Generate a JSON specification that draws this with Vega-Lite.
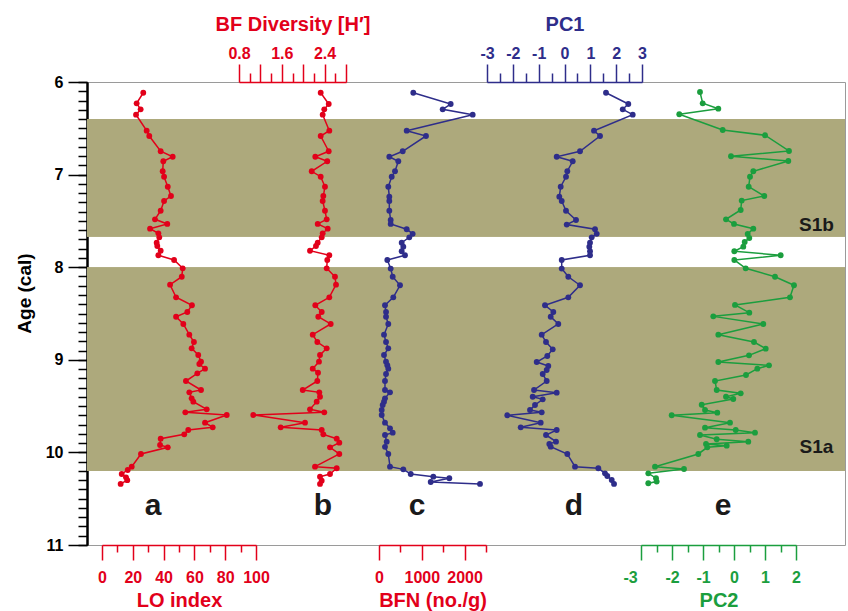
{
  "$schema": "https://vega.github.io/schema/vega-lite/v6.json",
  "width": 758,
  "height": 463,
  "autosize": {"type": "none"},
  "padding": {"left": 87, "top": 82, "right": 3, "bottom": 66},
  "config": {
    "view": {"stroke": "#9a9a9a", "strokeWidth": 1},
    "font": "Liberation Sans",
    "axis": {"grid": false, "labelFont": "Liberation Sans", "titleFont": "Liberation Sans", "labelFontWeight": "bold", "titleFontWeight": "bold", "labelOverlap": false, "labelFlush": false}
  },
  "layer": [
    {
      "data": {"values": [{"start": 6.4, "end": 7.67}, {"start": 8.0, "end": 10.2}]},
      "mark": {"type": "rect", "color": "#ada97c"},
      "encoding": {
        "y": {"field": "start", "type": "quantitative", "scale": {"domain": [6, 11], "reverse": true, "nice": false, "zero": false}, "title": null,
          "axis": {"orient": "left",
            "values": [6,6.1,6.2,6.3,6.4,6.5,6.6,6.7,6.8,6.9,7,7.1,7.2,7.3,7.4,7.5,7.6,7.7,7.8,7.9,8,8.1,8.2,8.3,8.4,8.5,8.6,8.7,8.8,8.9,9,9.1,9.2,9.3,9.4,9.5,9.6,9.7,9.8,9.9,10,10.1,10.2,10.3,10.4,10.5,10.6,10.7,10.8,10.9,11],
            "labels": false, "tickSize": 9,
            "domainColor": "#000000", "domainWidth": 2, "tickColor": "#000000", "tickWidth": 1.5}
        },
        "y2": {"field": "end"}
      }
    },
    {
      "data": {"values": [{"start": 6.4, "end": 7.67}, {"start": 8.0, "end": 10.2}]},
      "mark": {"type": "rect", "color": "#ada97c"},
      "encoding": {
        "y": {"field": "start", "type": "quantitative", "scale": {"domain": [6, 11], "reverse": true, "nice": false, "zero": false}, "title": "Age (cal)",
          "axis": {"orient": "left", "values": [6, 7, 8, 9, 10, 11], "format": "d", "tickSize": 19,
            "domainColor": "#000000", "domainWidth": 2, "tickColor": "#000000", "tickWidth": 1.5,
            "labelColor": "#000000", "labelFontSize": 16, "labelPadding": 5,
            "titleColor": "#000000", "titleFontSize": 19, "titlePadding": 11, "titleY": 211}
        },
        "y2": {"field": "end"}
      }
    },
    {
      "layer": [
        {
          "data": {"values": [
            {"age":6.116,"v":26.8},{"age":6.23,"v":22.5},{"age":6.295,"v":25.1},{"age":6.353,"v":22.1},{"age":6.526,"v":29.0},{"age":6.583,"v":30.7},{"age":6.748,"v":38.1},{"age":6.807,"v":45.9},{"age":6.856,"v":39.8},{"age":6.964,"v":39.4},{"age":7.023,"v":40.3},{"age":7.131,"v":42.7},{"age":7.231,"v":44.8},{"age":7.285,"v":40.3},{"age":7.39,"v":38.1},{"age":7.483,"v":34.4},{"age":7.533,"v":42.4},{"age":7.584,"v":31.2},{"age":7.634,"v":36.6},{"age":7.677,"v":37.2},{"age":7.735,"v":35.5},{"age":7.771,"v":35.9},{"age":7.822,"v":38.1},{"age":7.871,"v":36.6},{"age":7.922,"v":46.8},{"age":8.012,"v":52.4},{"age":8.103,"v":51.8},{"age":8.189,"v":44.2},{"age":8.325,"v":48.1},{"age":8.411,"v":58.4},{"age":8.484,"v":55.4},{"age":8.535,"v":48.1},{"age":8.613,"v":52.8},{"age":8.729,"v":56.7},{"age":8.808,"v":59.7},{"age":8.876,"v":58.2},{"age":8.948,"v":62.5},{"age":9.02,"v":64.3},{"age":9.045,"v":63.2},{"age":9.096,"v":66.9},{"age":9.146,"v":61.9},{"age":9.229,"v":54.5},{"age":9.326,"v":64.3},{"age":9.351,"v":56.7},{"age":9.416,"v":58.2},{"age":9.452,"v":59.3},{"age":9.535,"v":68.0},{"age":9.567,"v":54.1},{"age":9.596,"v":81.0},{"age":9.679,"v":66.9},{"age":9.729,"v":71.9},{"age":9.758,"v":56.0},{"age":9.805,"v":53.4},{"age":9.852,"v":38.1},{"age":9.92,"v":37.7},{"age":9.945,"v":42.7},{"age":10.017,"v":25.3},{"age":10.154,"v":19.3},{"age":10.19,"v":16.7},{"age":10.233,"v":12.8},{"age":10.269,"v":15.6},{"age":10.30,"v":16.4},{"age":10.34,"v":12.1}
          ]},
          "mark": {"type": "line", "color": "#e2001a", "strokeWidth": 1.5, "point": {"filled": true, "size": 34, "color": "#e2001a"}},
          "encoding": {
            "x": {"field": "v", "type": "quantitative", "scale": {"domain": [0, 100], "range": [15, 169], "nice": false, "zero": false}, "title": "LO index",
              "axis": {"orient": "bottom", "values": [0,10,20,30,40,50,60,70,80,90,100],
                "labelExpr": "datum.value % 20 == 0 ? '' + datum.value : ''",
                "tickSize": {"condition": {"test": "datum.value % 20 != 0", "value": 7}, "value": 15},
                "domainColor": "#e2001a", "tickColor": "#e2001a", "labelColor": "#e2001a", "titleColor": "#e2001a",
                "domainWidth": 1.5, "tickWidth": 1.5, "labelFontSize": 16, "titleFontSize": 20, "labelPadding": 9, "titlePadding": 5}},
            "y": {"field": "age", "type": "quantitative", "scale": {"domain": [6, 11], "reverse": true, "nice": false, "zero": false}, "axis": null},
            "order": {"field": "age", "type": "quantitative"}
          }
        },
        {
          "data": {"values": [{"age": 10.675, "v": 33.1, "t": "a"}]},
          "mark": {"type": "text", "fontSize": 30, "fontWeight": "bold", "color": "#1a1a1a", "align": "center", "baseline": "alphabetic"},
          "encoding": {
            "x": {"field": "v", "type": "quantitative", "title": "LO index"},
            "y": {"field": "age", "type": "quantitative", "axis": null},
            "text": {"field": "t"}
          }
        }
      ]
    },
    {
      "layer": [
        {
          "data": {"values": [
            {"age":6.116,"v":2.327},{"age":6.238,"v":2.477},{"age":6.295,"v":2.394},{"age":6.353,"v":2.364},{"age":6.526,"v":2.488},{"age":6.583,"v":2.327},{"age":6.748,"v":2.477},{"age":6.807,"v":2.226},{"age":6.856,"v":2.45},{"age":6.964,"v":2.159},{"age":7.023,"v":2.327},{"age":7.131,"v":2.407},{"age":7.231,"v":2.376},{"age":7.285,"v":2.364},{"age":7.39,"v":2.407},{"age":7.483,"v":2.439},{"age":7.533,"v":2.271},{"age":7.584,"v":2.458},{"age":7.634,"v":2.364},{"age":7.677,"v":2.346},{"age":7.735,"v":2.271},{"age":7.771,"v":2.239},{"age":7.822,"v":2.127},{"age":7.871,"v":2.488},{"age":7.922,"v":2.45},{"age":8.012,"v":2.439},{"age":8.103,"v":2.594},{"age":8.189,"v":2.613},{"age":8.325,"v":2.488},{"age":8.411,"v":2.226},{"age":8.484,"v":2.346},{"age":8.535,"v":2.282},{"age":8.613,"v":2.514},{"age":8.729,"v":2.178},{"age":8.808,"v":2.264},{"age":8.876,"v":2.439},{"age":8.948,"v":2.314},{"age":9.02,"v":2.295},{"age":9.096,"v":2.178},{"age":9.139,"v":2.277},{"age":9.229,"v":2.264},{"age":9.326,"v":1.991},{"age":9.351,"v":2.301},{"age":9.399,"v":2.314},{"age":9.452,"v":2.252},{"age":9.535,"v":2.127},{"age":9.567,"v":2.394},{"age":9.596,"v":1.067},{"age":9.679,"v":2.034},{"age":9.729,"v":1.579},{"age":9.758,"v":2.346},{"age":9.805,"v":2.376},{"age":9.852,"v":2.626},{"age":9.895,"v":2.675},{"age":9.945,"v":2.501},{"age":10.017,"v":2.675},{"age":10.154,"v":2.221},{"age":10.171,"v":2.626},{"age":10.233,"v":2.501},{"age":10.262,"v":2.314},{"age":10.305,"v":2.346},{"age":10.34,"v":2.314}
          ]},
          "mark": {"type": "line", "color": "#e2001a", "strokeWidth": 1.5, "point": {"filled": true, "size": 34, "color": "#e2001a"}},
          "encoding": {
            "x": {"field": "v", "type": "quantitative", "scale": {"domain": [0.8, 2.8], "range": [152, 259], "nice": false, "zero": false}, "title": "BF Diversity [H′]",
              "axis": {"orient": "top", "values": [0.8,1.0,1.2,1.4,1.6,1.8,2.0,2.2,2.4,2.6,2.8],
                "labelExpr": "round(datum.value * 10) % 8 == 0 ? '' + datum.value : ''",
                "tickSize": {"condition": {"test": "round(datum.value * 10) % 4 != 0", "value": 9}, "value": 18},
                "domainColor": "#e2001a", "tickColor": "#e2001a", "labelColor": "#e2001a", "titleColor": "#e2001a",
                "domainWidth": 1.5, "tickWidth": 1.5, "labelFontSize": 16, "titleFontSize": 20, "labelPadding": 3, "titlePadding": 11}},
            "y": {"field": "age", "type": "quantitative", "scale": {"domain": [6, 11], "reverse": true, "nice": false, "zero": false}, "axis": null},
            "order": {"field": "age", "type": "quantitative"}
          }
        },
        {
          "data": {"values": [{"age": 10.675, "v": 2.37, "t": "b"}]},
          "mark": {"type": "text", "fontSize": 30, "fontWeight": "bold", "color": "#1a1a1a", "align": "center", "baseline": "alphabetic"},
          "encoding": {
            "x": {"field": "v", "type": "quantitative", "title": "BF Diversity [H′]"},
            "y": {"field": "age", "type": "quantitative", "axis": null},
            "text": {"field": "t"}
          }
        }
      ]
    },
    {
      "layer": [
        {
          "data": {"values": [
            {"age":6.116,"v":801},{"age":6.238,"v":1675},{"age":6.295,"v":1488},{"age":6.353,"v":2189},{"age":6.526,"v":647},{"age":6.583,"v":1098},{"age":6.748,"v":554},{"age":6.807,"v":241},{"age":6.856,"v":451},{"age":6.964,"v":374},{"age":7.023,"v":297},{"age":7.131,"v":217},{"age":7.238,"v":241},{"age":7.285,"v":241},{"age":7.39,"v":241},{"age":7.49,"v":273},{"age":7.533,"v":273},{"age":7.59,"v":647},{"age":7.64,"v":787},{"age":7.677,"v":708},{"age":7.735,"v":530},{"age":7.778,"v":568},{"age":7.828,"v":530},{"age":7.871,"v":607},{"age":7.922,"v":194},{"age":8.015,"v":273},{"age":8.103,"v":320},{"age":8.195,"v":491},{"age":8.325,"v":334},{"age":8.411,"v":140},{"age":8.484,"v":164},{"age":8.535,"v":164},{"age":8.613,"v":217},{"age":8.729,"v":117},{"age":8.808,"v":164},{"age":8.876,"v":217},{"age":8.948,"v":117},{"age":9.02,"v":164},{"age":9.059,"v":194},{"age":9.096,"v":217},{"age":9.153,"v":164},{"age":9.229,"v":140},{"age":9.326,"v":140},{"age":9.351,"v":257},{"age":9.416,"v":140},{"age":9.452,"v":117},{"age":9.488,"v":86},{"age":9.542,"v":63},{"age":9.596,"v":63},{"age":9.679,"v":140},{"age":9.74,"v":257},{"age":9.787,"v":320},{"age":9.812,"v":140},{"age":9.884,"v":180},{"age":9.94,"v":140},{"age":10.017,"v":217},{"age":10.154,"v":257},{"age":10.183,"v":568},{"age":10.233,"v":741},{"age":10.262,"v":1269},{"age":10.279,"v":1643},{"age":10.32,"v":1208},{"age":10.34,"v":2360}
          ]},
          "mark": {"type": "line", "color": "#2e2d8a", "strokeWidth": 1.5, "point": {"filled": true, "size": 34, "color": "#2e2d8a"}},
          "encoding": {
            "x": {"field": "v", "type": "quantitative", "scale": {"domain": [0, 2500], "range": [292, 399], "nice": false, "zero": false}, "title": "BFN (no./g)",
              "axis": {"orient": "bottom", "values": [0,500,1000,1500,2000,2500],
                "labelExpr": "datum.value % 1000 == 0 ? '' + datum.value : ''",
                "tickSize": {"condition": {"test": "datum.value % 1000 != 0", "value": 7}, "value": 15},
                "domainColor": "#e2001a", "tickColor": "#e2001a", "labelColor": "#e2001a", "titleColor": "#e2001a",
                "domainWidth": 1.5, "tickWidth": 1.5, "labelFontSize": 16, "titleFontSize": 20, "labelPadding": 9, "titlePadding": 5}},
            "y": {"field": "age", "type": "quantitative", "scale": {"domain": [6, 11], "reverse": true, "nice": false, "zero": false}, "axis": null},
            "order": {"field": "age", "type": "quantitative"}
          }
        },
        {
          "data": {"values": [{"age": 10.675, "v": 888, "t": "c"}]},
          "mark": {"type": "text", "fontSize": 30, "fontWeight": "bold", "color": "#1a1a1a", "align": "center", "baseline": "alphabetic"},
          "encoding": {
            "x": {"field": "v", "type": "quantitative", "title": "BFN (no./g)"},
            "y": {"field": "age", "type": "quantitative", "axis": null},
            "text": {"field": "t"}
          }
        }
      ]
    },
    {
      "layer": [
        {
          "data": {"values": [
            {"age":6.116,"v":1.607},{"age":6.238,"v":2.47},{"age":6.295,"v":2.254},{"age":6.353,"v":2.641},{"age":6.526,"v":1.142},{"age":6.583,"v":1.375},{"age":6.748,"v":0.6},{"age":6.807,"v":-0.302},{"age":6.856,"v":0.318},{"age":6.964,"v":0.109},{"age":7.023,"v":0.058},{"age":7.131,"v":-0.147},{"age":7.238,"v":-0.201},{"age":7.285,"v":-0.108},{"age":7.39,"v":0.058},{"age":7.49,"v":0.446},{"age":7.54,"v":0.086},{"age":7.59,"v":1.181},{"age":7.64,"v":1.247},{"age":7.677,"v":1.053},{"age":7.735,"v":0.988},{"age":7.778,"v":0.961},{"age":7.828,"v":0.988},{"age":7.871,"v":0.988},{"age":7.922,"v":-0.108},{"age":8.015,"v":-0.108},{"age":8.103,"v":0.147},{"age":8.195,"v":0.6},{"age":8.325,"v":0.147},{"age":8.411,"v":-0.755},{"age":8.484,"v":-0.433},{"age":8.535,"v":-0.534},{"age":8.613,"v":-0.24},{"age":8.729,"v":-0.882},{"age":8.808,"v":-0.716},{"age":8.887,"v":-0.456},{"age":8.959,"v":-0.666},{"age":9.024,"v":-1.076},{"age":9.067,"v":-0.627},{"age":9.11,"v":-0.689},{"age":9.153,"v":-0.844},{"age":9.229,"v":-0.689},{"age":9.326,"v":-1.18},{"age":9.355,"v":-0.302},{"age":9.399,"v":-1.231},{"age":9.427,"v":-0.844},{"age":9.488,"v":-1.142},{"age":9.542,"v":-1.335},{"age":9.567,"v":-0.882},{"age":9.599,"v":-2.214},{"age":9.679,"v":-0.921},{"age":9.729,"v":-1.695},{"age":9.758,"v":-0.302},{"age":9.812,"v":-0.716},{"age":9.884,"v":-0.329},{"age":9.909,"v":-0.588},{"age":9.938,"v":-0.534},{"age":10.017,"v":0.109},{"age":10.154,"v":0.407},{"age":10.171,"v":1.309},{"age":10.226,"v":1.568},{"age":10.255,"v":1.657},{"age":10.298,"v":1.828},{"age":10.34,"v":1.917}
          ]},
          "mark": {"type": "line", "color": "#2e2d8a", "strokeWidth": 1.5, "point": {"filled": true, "size": 34, "color": "#2e2d8a"}},
          "encoding": {
            "x": {"field": "v", "type": "quantitative", "scale": {"domain": [-3, 3], "range": [400, 555], "nice": false, "zero": false}, "title": "PC1",
              "axis": {"orient": "top", "values": [-3,-2.5,-2,-1.5,-1,-0.5,0,0.5,1,1.5,2,2.5,3],
                "labelExpr": "datum.value % 1 == 0 ? '' + datum.value : ''",
                "tickSize": {"condition": {"test": "datum.value % 1 != 0", "value": 9}, "value": 18},
                "domainColor": "#2e2d8a", "tickColor": "#2e2d8a", "labelColor": "#2e2d8a", "titleColor": "#2e2d8a",
                "domainWidth": 1.5, "tickWidth": 1.5, "labelFontSize": 16, "titleFontSize": 20, "labelPadding": 3, "titlePadding": 11}},
            "y": {"field": "age", "type": "quantitative", "scale": {"domain": [6, 11], "reverse": true, "nice": false, "zero": false}, "axis": null},
            "order": {"field": "age", "type": "quantitative"}
          }
        },
        {
          "data": {"values": [{"age": 10.675, "v": 0.368, "t": "d"}]},
          "mark": {"type": "text", "fontSize": 30, "fontWeight": "bold", "color": "#1a1a1a", "align": "center", "baseline": "alphabetic"},
          "encoding": {
            "x": {"field": "v", "type": "quantitative", "title": "PC1"},
            "y": {"field": "age", "type": "quantitative", "axis": null},
            "text": {"field": "t"}
          }
        }
      ]
    },
    {
      "layer": [
        {
          "data": {"values": [
            {"age":6.108,"v":-1.097},{"age":6.23,"v":-1.01},{"age":6.288,"v":-0.506},{"age":6.348,"v":-1.765},{"age":6.518,"v":-0.365},{"age":6.575,"v":1.0},{"age":6.745,"v":1.774},{"age":6.802,"v":-0.097},{"age":6.853,"v":1.752},{"age":6.964,"v":0.623},{"age":7.023,"v":0.516},{"age":7.131,"v":0.474},{"age":7.231,"v":0.977},{"age":7.281,"v":0.248},{"age":7.382,"v":0.216},{"age":7.483,"v":-0.258},{"age":7.533,"v":0.0},{"age":7.584,"v":0.623},{"age":7.641,"v":0.442},{"age":7.685,"v":0.494},{"age":7.728,"v":0.345},{"age":7.778,"v":0.3},{"age":7.828,"v":0.01},{"age":7.871,"v":1.506},{"age":7.922,"v":0.01},{"age":8.012,"v":0.377},{"age":8.103,"v":1.323},{"age":8.195,"v":1.935},{"age":8.325,"v":1.806},{"age":8.407,"v":0.032},{"age":8.491,"v":0.494},{"age":8.531,"v":-0.668},{"age":8.613,"v":0.945},{"age":8.729,"v":-0.506},{"age":8.808,"v":0.645},{"age":8.88,"v":1.023},{"age":8.952,"v":0.484},{"age":9.024,"v":-0.506},{"age":9.06,"v":1.129},{"age":9.096,"v":0.752},{"age":9.164,"v":0.387},{"age":9.229,"v":-0.613},{"age":9.326,"v":-0.558},{"age":9.362,"v":0.216},{"age":9.399,"v":-0.258},{"age":9.423,"v":-0.023},{"age":9.485,"v":-1.042},{"age":9.542,"v":-0.935},{"age":9.571,"v":-0.539},{"age":9.599,"v":-2.01},{"age":9.679,"v":-0.129},{"age":9.733,"v":-0.935},{"age":9.758,"v":0.055},{"age":9.787,"v":0.677},{"age":9.812,"v":-1.097},{"age":9.858,"v":-0.558},{"age":9.884,"v":0.461},{"age":9.909,"v":-0.903},{"age":9.927,"v":-0.235},{"age":9.945,"v":-0.861},{"age":10.017,"v":-1.152},{"age":10.154,"v":-2.548},{"age":10.179,"v":-1.613},{"age":10.226,"v":-2.765},{"age":10.279,"v":-2.516},{"age":10.315,"v":-2.494},{"age":10.333,"v":-2.765}
          ]},
          "mark": {"type": "line", "color": "#1b9e3e", "strokeWidth": 1.5, "point": {"filled": true, "size": 34, "color": "#1b9e3e"}},
          "encoding": {
            "x": {"field": "v", "type": "quantitative", "scale": {"domain": [-3, 2], "range": [554, 709], "nice": false, "zero": false}, "title": "PC2",
              "axis": {"orient": "bottom", "values": [-3,-2.5,-2,-1.5,-1,-0.5,0,0.5,1,1.5,2],
                "labelExpr": "datum.value % 1 == 0 ? '' + datum.value : ''",
                "tickSize": {"condition": {"test": "datum.value % 1 != 0", "value": 7}, "value": 15},
                "labelOffset": {"condition": {"test": "datum.value == -3", "value": -11}, "value": 0},
                "domainColor": "#1b9e3e", "tickColor": "#1b9e3e", "labelColor": "#1b9e3e", "titleColor": "#1b9e3e",
                "domainWidth": 1.5, "tickWidth": 1.5, "labelFontSize": 16, "titleFontSize": 20, "labelPadding": 9, "titlePadding": 5}},
            "y": {"field": "age", "type": "quantitative", "scale": {"domain": [6, 11], "reverse": true, "nice": false, "zero": false}, "axis": null},
            "order": {"field": "age", "type": "quantitative"}
          }
        },
        {
          "data": {"values": [{"age": 10.675, "v": -0.355, "t": "e", "s": 30}, {"age": 7.605, "v": 2.66, "t": "S1b", "s": 19}, {"age": 10.003, "v": 2.66, "t": "S1a", "s": 19}]},
          "mark": {"type": "text", "fontWeight": "bold", "color": "#1a1a1a", "align": "center", "baseline": "alphabetic"},
          "encoding": {
            "x": {"field": "v", "type": "quantitative", "title": "PC2"},
            "y": {"field": "age", "type": "quantitative", "axis": null},
            "text": {"field": "t"},
            "size": {"field": "s", "type": "quantitative", "scale": null}
          }
        }
      ]
    }
  ],
  "resolve": {"scale": {"x": "independent", "y": "independent"}}
}
